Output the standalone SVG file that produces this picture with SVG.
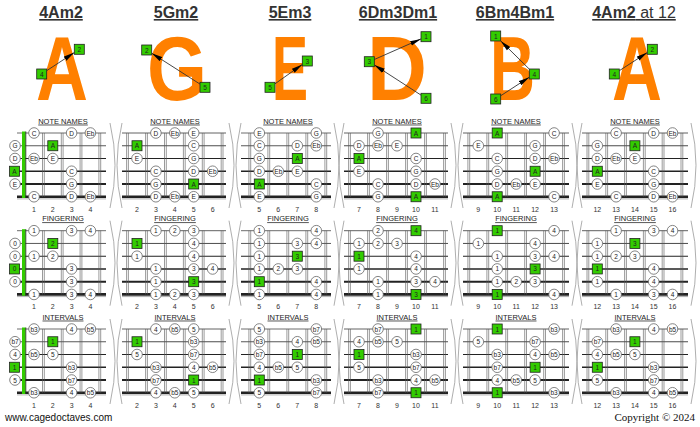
<svg xmlns="http://www.w3.org/2000/svg" width="700" height="427" viewBox="0 0 700 427">
<style>
text{font-family:'Liberation Sans',Arial,Helvetica,sans-serif}
.t text{font-size:6.5px;text-anchor:middle;dominant-baseline:central;fill:#222}
.n{font-size:7px;text-anchor:middle;fill:#333}
.h{font-size:7.5px;text-anchor:middle;text-decoration:underline;fill:#333}
.fr{stroke:#555;stroke-width:0.6;fill:none}
.st path{fill:none;stroke:#222}
.s1{stroke-width:0.7}.s2{stroke-width:0.8}.s3{stroke-width:1.1}.s4{stroke-width:1.5}.s5{stroke-width:2}.s6{stroke-width:2.7}
.wv{fill:none;stroke:#999;stroke-width:0.8}
.c{fill:#fff;stroke:#666;stroke-width:0.8}
.q{fill:#33cc00;stroke:#222;stroke-width:0.8}
.big{font-size:91px;font-weight:bold;fill:#ff8000}
.ttl{font-size:16px;font-weight:bold;text-anchor:middle;text-decoration:underline;fill:#333}
.arr{stroke:#333;stroke-width:0.9;fill:none;marker-end:url(#ah)}
</style>
<defs>
<circle id="o" r="5.3" class="c"/>
<rect id="q" x="-5" y="-5" width="10" height="10" class="q"/>
<marker id="ah" markerUnits="userSpaceOnUse" markerWidth="12" markerHeight="6" refX="11" refY="3" orient="auto"><path d="M0,0.6 L11,3 L0,5.4 Z" fill="#000"/></marker>
<g id="S" class="st">
<path class="s1" d="M0,0H100"/><path class="s2" d="M0,12.75H100"/><path class="s3" d="M0,25.5H100"/><path class="s4" d="M0,38.25H100"/><path class="s5" d="M0,51H100"/><path class="s6" d="M0,63.75H100"/><path d="M0,65.9H100" style="stroke:#999;stroke-width:0.8"/>
</g>
<path id="F" class="fr" d="M-0.9,0V63.75M0.9,0V63.75"/>
<g id="b1">
<use href="#S" transform="translate(17,0) scale(0.89,1)"/>
<rect x="22" y="-1.5" width="3.6" height="66.5" fill="#33cc00"/>
<path d="M25.8,-1.5V65" stroke="#222" stroke-width="0.8"/>
<use href="#F" x="43.4"/><use href="#F" x="62.2"/><use href="#F" x="81"/><use href="#F" x="99.8"/>
<path class="wv" d="M110,-10Q120,32 110,75"/>
</g>
<g id="b2">
<use href="#S" transform="translate(122,0) scale(1.04,1)"/>
<use href="#F" x="127.5"/><use href="#F" x="146.5"/><use href="#F" x="165.4"/><use href="#F" x="184.3"/><use href="#F" x="203.2"/><use href="#F" x="222.1"/>
<path class="wv" d="M122,-10Q112,32 122,75"/>
<path class="wv" d="M229,-10Q239,32 229,75"/>
</g>
<g id="b3">
<use href="#S" transform="translate(241,0) scale(0.9,1)"/>
<use href="#F" x="249.8"/><use href="#F" x="268.8"/><use href="#F" x="287.8"/><use href="#F" x="306.8"/><use href="#F" x="325.8"/>
<path class="wv" d="M241,-10Q231,32 241,75"/>
<path class="wv" d="M334,-10Q344,32 334,75"/>
</g>
<g id="b4">
<use href="#S" transform="translate(344,0) scale(1.04,1)"/>
<use href="#F" x="349.5"/><use href="#F" x="368.5"/><use href="#F" x="387.5"/><use href="#F" x="406.5"/><use href="#F" x="425.5"/><use href="#F" x="444.5"/>
<path class="wv" d="M344,-10Q334,32 344,75"/>
<path class="wv" d="M451,-10Q461,32 451,75"/>
</g>
<g id="b5">
<use href="#S" transform="translate(463,0) scale(1.06,1)"/>
<use href="#F" x="468.8"/><use href="#F" x="487.8"/><use href="#F" x="506.7"/><use href="#F" x="525.6"/><use href="#F" x="544.6"/><use href="#F" x="563.5"/>
<path class="wv" d="M463,-10Q453,32 463,75"/>
<path class="wv" d="M572,-10Q582,32 572,75"/>
</g>
<g id="b6">
<use href="#S" transform="translate(582,0) scale(1.06,1)"/>
<use href="#F" x="587.9"/><use href="#F" x="606.7"/><use href="#F" x="625.5"/><use href="#F" x="644.3"/><use href="#F" x="663.1"/><use href="#F" x="681.9"/>
<path class="wv" d="M582,-10Q572,32 582,75"/>
<path class="wv" d="M691,-10Q701,32 691,75"/>
</g>
<g id="n1" class="n"><text x="34" y="78.5">1</text><text x="52.8" y="78.5">2</text><text x="71.6" y="78.5">3</text><text x="90.4" y="78.5">4</text></g>
<g id="n2" class="n"><text x="137" y="78.5">2</text><text x="155.9" y="78.5">3</text><text x="174.8" y="78.5">4</text><text x="193.7" y="78.5">5</text><text x="212.6" y="78.5">6</text></g>
<g id="n3" class="n"><text x="259.3" y="78.5">5</text><text x="278.3" y="78.5">6</text><text x="297.3" y="78.5">7</text><text x="316.3" y="78.5">8</text></g>
<g id="n4" class="n"><text x="359" y="78.5">7</text><text x="378" y="78.5">8</text><text x="397" y="78.5">9</text><text x="416" y="78.5">10</text><text x="435" y="78.5">11</text></g>
<g id="n5" class="n"><text x="478.3" y="78.5">9</text><text x="497.2" y="78.5">10</text><text x="516.2" y="78.5">11</text><text x="535.1" y="78.5">12</text><text x="554.1" y="78.5">13</text></g>
<g id="n6" class="n"><text x="597.3" y="78.5">12</text><text x="616.1" y="78.5">13</text><text x="634.9" y="78.5">14</text><text x="653.7" y="78.5">15</text><text x="672.5" y="78.5">16</text></g>
</defs>
<rect width="700" height="427" fill="#fff"/>

<!-- header -->
<g id="header">
<text class="ttl" x="61" y="18">4Am2</text>
<text class="ttl" x="176" y="18">5Gm2</text>
<text class="ttl" x="290" y="18">5Em3</text>
<text class="ttl" x="398" y="18">6Dm3Dm1</text>
<text class="ttl" x="515" y="18">6Bm4Bm1</text>
<text class="ttl" x="634" y="18"><tspan>4Am2</tspan><tspan font-weight="normal"> at 12</tspan></text>
<text class="big" x="36" y="100" textLength="52" lengthAdjust="spacingAndGlyphs">A</text>
<text class="big" x="147" y="100" textLength="60" lengthAdjust="spacingAndGlyphs">G</text>
<text class="big" x="272" y="100" textLength="36" lengthAdjust="spacingAndGlyphs">E</text>
<text class="big" x="367" y="100" textLength="60" lengthAdjust="spacingAndGlyphs">D</text>
<text class="big" x="490" y="100" textLength="45" lengthAdjust="spacingAndGlyphs">B</text>
<text class="big" x="612" y="100" textLength="50" lengthAdjust="spacingAndGlyphs">A</text>
</g>
<g id="connectors">
<path class="arr" d="M46.7,70.7L74.3,52.6"/>
<path class="arr" d="M200,84.1L151.7,53.2"/>
<path class="arr" d="M275,83.8L302.3,64.5"/>
<path class="arr" d="M374.3,59.5L421,38.9"/>
<path class="arr" d="M421,95.1L374.3,64.9"/>
<path class="arr" d="M529.3,69.1L500.7,40.9"/>
<path class="arr" d="M500.7,95.75L529.3,77.2"/>
<path class="arr" d="M619.3,70.7L647.3,52.6"/>
</g>
<g id="header-boxes" class="t">
<use href="#q" x="79.3" y="49.3"/><text x="79.3" y="49.3">2</text>
<use href="#q" x="41.7" y="74"/><text x="41.7" y="74">4</text>
<use href="#q" x="146.7" y="50"/><text x="146.7" y="50">2</text>
<use href="#q" x="205" y="87.3"/><text x="205" y="87.3">5</text>
<use href="#q" x="307.3" y="61"/><text x="307.3" y="61">3</text>
<use href="#q" x="270" y="87.3"/><text x="270" y="87.3">5</text>
<use href="#q" x="426" y="36.7"/><text x="426" y="36.7">1</text>
<use href="#q" x="369.3" y="61.7"/><text x="369.3" y="61.7">3</text>
<use href="#q" x="426" y="98.3"/><text x="426" y="98.3">6</text>
<use href="#q" x="495.7" y="36"/><text x="495.7" y="36">1</text>
<use href="#q" x="534.3" y="74"/><text x="534.3" y="74">4</text>
<use href="#q" x="495.7" y="99"/><text x="495.7" y="99">6</text>
<use href="#q" x="652.3" y="49.3"/><text x="652.3" y="49.3">2</text>
<use href="#q" x="614.3" y="74"/><text x="614.3" y="74">4</text>
</g>

<!-- ROW 1: NOTE NAMES -->
<g id="d1-notes" class="t" transform="translate(0,133)">
<use href="#b1"/><use href="#n1"/><text class="h" x="63" y="-9.4" style="font-size:7.5px;dominant-baseline:auto">NOTE NAMES</text>
<use href="#o" x="34" y="0"/><text x="34" y="0">C</text><use href="#o" x="71.6" y="0"/><text x="71.6" y="0">D</text><use href="#o" x="90.4" y="0"/><text x="90.4" y="0">Eb</text>
<use href="#o" x="15" y="12.75"/><text x="15" y="12.75">G</text><use href="#q" x="52.8" y="12.75"/><text x="52.8" y="12.75">A</text>
<use href="#o" x="15" y="25.5"/><text x="15" y="25.5">D</text><use href="#o" x="34" y="25.5"/><text x="34" y="25.5">Eb</text><use href="#o" x="52.8" y="25.5"/><text x="52.8" y="25.5">E</text>
<use href="#q" x="14.5" y="38.25"/><text x="14.5" y="38.25">A</text><use href="#o" x="71.6" y="38.25"/><text x="71.6" y="38.25">C</text>
<use href="#o" x="15" y="51"/><text x="15" y="51">E</text><use href="#o" x="71.6" y="51"/><text x="71.6" y="51">G</text>
<use href="#o" x="34" y="63.75"/><text x="34" y="63.75">C</text><use href="#o" x="71.6" y="63.75"/><text x="71.6" y="63.75">D</text><use href="#o" x="90.4" y="63.75"/><text x="90.4" y="63.75">Eb</text>
</g>
<g id="d2-notes" class="t" transform="translate(0,133)">
<use href="#b2"/><use href="#n2"/><text class="h" x="175" y="-9.4" style="font-size:7.5px;dominant-baseline:auto">NOTE NAMES</text>
<use href="#o" x="155.9" y="0"/><text x="155.9" y="0">D</text><use href="#o" x="174.8" y="0"/><text x="174.8" y="0">Eb</text><use href="#o" x="193.7" y="0"/><text x="193.7" y="0">E</text>
<use href="#q" x="137" y="12.75"/><text x="137" y="12.75">A</text><use href="#o" x="193.7" y="12.75"/><text x="193.7" y="12.75">C</text>
<use href="#o" x="137" y="25.5"/><text x="137" y="25.5">E</text><use href="#o" x="193.7" y="25.5"/><text x="193.7" y="25.5">G</text>
<use href="#o" x="155.9" y="38.25"/><text x="155.9" y="38.25">C</text><use href="#o" x="193.7" y="38.25"/><text x="193.7" y="38.25">D</text><use href="#o" x="212.6" y="38.25"/><text x="212.6" y="38.25">Eb</text>
<use href="#o" x="155.9" y="51"/><text x="155.9" y="51">G</text><use href="#q" x="193.7" y="51"/><text x="193.7" y="51">A</text>
<use href="#o" x="155.9" y="63.75"/><text x="155.9" y="63.75">D</text><use href="#o" x="174.8" y="63.75"/><text x="174.8" y="63.75">Eb</text><use href="#o" x="193.7" y="63.75"/><text x="193.7" y="63.75">E</text>
</g>
<g id="d3-notes" class="t" transform="translate(0,133)">
<use href="#b3"/><use href="#n3"/><text class="h" x="288" y="-9.4" style="font-size:7.5px;dominant-baseline:auto">NOTE NAMES</text>
<use href="#o" x="259.3" y="0"/><text x="259.3" y="0">E</text><use href="#o" x="316.3" y="0"/><text x="316.3" y="0">G</text>
<use href="#o" x="259.3" y="12.75"/><text x="259.3" y="12.75">C</text><use href="#o" x="297.3" y="12.75"/><text x="297.3" y="12.75">D</text><use href="#o" x="316.3" y="12.75"/><text x="316.3" y="12.75">Eb</text>
<use href="#o" x="259.3" y="25.5"/><text x="259.3" y="25.5">G</text><use href="#q" x="297.3" y="25.5"/><text x="297.3" y="25.5">A</text>
<use href="#o" x="259.3" y="38.25"/><text x="259.3" y="38.25">D</text><use href="#o" x="278.3" y="38.25"/><text x="278.3" y="38.25">Eb</text><use href="#o" x="297.3" y="38.25"/><text x="297.3" y="38.25">E</text>
<use href="#q" x="259.3" y="51"/><text x="259.3" y="51">A</text><use href="#o" x="316.3" y="51"/><text x="316.3" y="51">C</text>
<use href="#o" x="259.3" y="63.75"/><text x="259.3" y="63.75">E</text><use href="#o" x="316.3" y="63.75"/><text x="316.3" y="63.75">G</text>
</g>
<g id="d4-notes" class="t" transform="translate(0,133)">
<use href="#b4"/><use href="#n4"/><text class="h" x="397" y="-9.4" style="font-size:7.5px;dominant-baseline:auto">NOTE NAMES</text>
<use href="#o" x="378" y="0"/><text x="378" y="0">G</text><use href="#q" x="416" y="0"/><text x="416" y="0">A</text>
<use href="#o" x="359" y="12.75"/><text x="359" y="12.75">D</text><use href="#o" x="378" y="12.75"/><text x="378" y="12.75">Eb</text><use href="#o" x="397" y="12.75"/><text x="397" y="12.75">E</text>
<use href="#q" x="359" y="25.5"/><text x="359" y="25.5">A</text><use href="#o" x="416" y="25.5"/><text x="416" y="25.5">C</text>
<use href="#o" x="359" y="38.25"/><text x="359" y="38.25">E</text><use href="#o" x="416" y="38.25"/><text x="416" y="38.25">G</text>
<use href="#o" x="378" y="51"/><text x="378" y="51">C</text><use href="#o" x="416" y="51"/><text x="416" y="51">D</text><use href="#o" x="435" y="51"/><text x="435" y="51">Eb</text>
<use href="#o" x="378" y="63.75"/><text x="378" y="63.75">G</text><use href="#q" x="416" y="63.75"/><text x="416" y="63.75">A</text>
</g>
<g id="d5-notes" class="t" transform="translate(0,133)">
<use href="#b5"/><use href="#n5"/><text class="h" x="516" y="-9.4" style="font-size:7.5px;dominant-baseline:auto">NOTE NAMES</text>
<use href="#q" x="497.2" y="0"/><text x="497.2" y="0">A</text><use href="#o" x="554.1" y="0"/><text x="554.1" y="0">C</text>
<use href="#o" x="478.3" y="12.75"/><text x="478.3" y="12.75">E</text><use href="#o" x="535.1" y="12.75"/><text x="535.1" y="12.75">G</text>
<use href="#o" x="497.2" y="25.5"/><text x="497.2" y="25.5">C</text><use href="#o" x="535.1" y="25.5"/><text x="535.1" y="25.5">D</text><use href="#o" x="554.1" y="25.5"/><text x="554.1" y="25.5">Eb</text>
<use href="#o" x="497.2" y="38.25"/><text x="497.2" y="38.25">G</text><use href="#q" x="535.1" y="38.25"/><text x="535.1" y="38.25">A</text>
<use href="#o" x="497.2" y="51"/><text x="497.2" y="51">D</text><use href="#o" x="516.2" y="51"/><text x="516.2" y="51">Eb</text><use href="#o" x="535.1" y="51"/><text x="535.1" y="51">E</text>
<use href="#q" x="497.2" y="63.75"/><text x="497.2" y="63.75">A</text><use href="#o" x="554.1" y="63.75"/><text x="554.1" y="63.75">C</text>
</g>
<g id="d6-notes" class="t" transform="translate(0,133)">
<use href="#b6"/><use href="#n6"/><text class="h" x="635" y="-9.4" style="font-size:7.5px;dominant-baseline:auto">NOTE NAMES</text>
<use href="#o" x="616.1" y="0"/><text x="616.1" y="0">C</text><use href="#o" x="653.7" y="0"/><text x="653.7" y="0">D</text><use href="#o" x="672.5" y="0"/><text x="672.5" y="0">Eb</text>
<use href="#o" x="597.3" y="12.75"/><text x="597.3" y="12.75">G</text><use href="#q" x="634.9" y="12.75"/><text x="634.9" y="12.75">A</text>
<use href="#o" x="597.3" y="25.5"/><text x="597.3" y="25.5">D</text><use href="#o" x="616.1" y="25.5"/><text x="616.1" y="25.5">Eb</text><use href="#o" x="634.9" y="25.5"/><text x="634.9" y="25.5">E</text>
<use href="#q" x="597.3" y="38.25"/><text x="597.3" y="38.25">A</text><use href="#o" x="653.7" y="38.25"/><text x="653.7" y="38.25">C</text>
<use href="#o" x="597.3" y="51"/><text x="597.3" y="51">E</text><use href="#o" x="653.7" y="51"/><text x="653.7" y="51">G</text>
<use href="#o" x="616.1" y="63.75"/><text x="616.1" y="63.75">C</text><use href="#o" x="653.7" y="63.75"/><text x="653.7" y="63.75">D</text><use href="#o" x="672.5" y="63.75"/><text x="672.5" y="63.75">Eb</text>
</g>

<!-- ROW 2: FINGERING -->
<g id="d1-fingering" class="t" transform="translate(0,230.7)">
<use href="#b1"/><use href="#n1"/><text class="h" x="63" y="-9.4" style="font-size:7.5px;dominant-baseline:auto">FINGERING</text>
<use href="#o" x="34" y="0"/><text x="34" y="0">1</text><use href="#o" x="71.6" y="0"/><text x="71.6" y="0">3</text><use href="#o" x="90.4" y="0"/><text x="90.4" y="0">4</text>
<use href="#o" x="15" y="12.75"/><text x="15" y="12.75">0</text><use href="#q" x="52.8" y="12.75"/><text x="52.8" y="12.75">2</text>
<use href="#o" x="15" y="25.5"/><text x="15" y="25.5">0</text><use href="#o" x="34" y="25.5"/><text x="34" y="25.5">1</text><use href="#o" x="52.8" y="25.5"/><text x="52.8" y="25.5">2</text>
<use href="#q" x="14.5" y="38.25"/><text x="14.5" y="38.25">0</text><use href="#o" x="71.6" y="38.25"/><text x="71.6" y="38.25">3</text>
<use href="#o" x="15" y="51"/><text x="15" y="51">0</text><use href="#o" x="71.6" y="51"/><text x="71.6" y="51">3</text>
<use href="#o" x="34" y="63.75"/><text x="34" y="63.75">1</text><use href="#o" x="71.6" y="63.75"/><text x="71.6" y="63.75">3</text><use href="#o" x="90.4" y="63.75"/><text x="90.4" y="63.75">4</text>
</g>
<g id="d2-fingering" class="t" transform="translate(0,230.7)">
<use href="#b2"/><use href="#n2"/><text class="h" x="175" y="-9.4" style="font-size:7.5px;dominant-baseline:auto">FINGERING</text>
<use href="#o" x="155.9" y="0"/><text x="155.9" y="0">1</text><use href="#o" x="174.8" y="0"/><text x="174.8" y="0">2</text><use href="#o" x="193.7" y="0"/><text x="193.7" y="0">3</text>
<use href="#q" x="137" y="12.75"/><text x="137" y="12.75">1</text><use href="#o" x="193.7" y="12.75"/><text x="193.7" y="12.75">4</text>
<use href="#o" x="137" y="25.5"/><text x="137" y="25.5">1</text><use href="#o" x="193.7" y="25.5"/><text x="193.7" y="25.5">4</text>
<use href="#o" x="155.9" y="38.25"/><text x="155.9" y="38.25">1</text><use href="#o" x="193.7" y="38.25"/><text x="193.7" y="38.25">3</text><use href="#o" x="212.6" y="38.25"/><text x="212.6" y="38.25">4</text>
<use href="#o" x="155.9" y="51"/><text x="155.9" y="51">1</text><use href="#q" x="193.7" y="51"/><text x="193.7" y="51">3</text>
<use href="#o" x="155.9" y="63.75"/><text x="155.9" y="63.75">1</text><use href="#o" x="174.8" y="63.75"/><text x="174.8" y="63.75">2</text><use href="#o" x="193.7" y="63.75"/><text x="193.7" y="63.75">3</text>
</g>
<g id="d3-fingering" class="t" transform="translate(0,230.7)">
<use href="#b3"/><use href="#n3"/><text class="h" x="288" y="-9.4" style="font-size:7.5px;dominant-baseline:auto">FINGERING</text>
<use href="#o" x="259.3" y="0"/><text x="259.3" y="0">1</text><use href="#o" x="316.3" y="0"/><text x="316.3" y="0">4</text>
<use href="#o" x="259.3" y="12.75"/><text x="259.3" y="12.75">1</text><use href="#o" x="297.3" y="12.75"/><text x="297.3" y="12.75">3</text><use href="#o" x="316.3" y="12.75"/><text x="316.3" y="12.75">4</text>
<use href="#o" x="259.3" y="25.5"/><text x="259.3" y="25.5">1</text><use href="#q" x="297.3" y="25.5"/><text x="297.3" y="25.5">3</text>
<use href="#o" x="259.3" y="38.25"/><text x="259.3" y="38.25">1</text><use href="#o" x="278.3" y="38.25"/><text x="278.3" y="38.25">2</text><use href="#o" x="297.3" y="38.25"/><text x="297.3" y="38.25">3</text>
<use href="#q" x="259.3" y="51"/><text x="259.3" y="51">1</text><use href="#o" x="316.3" y="51"/><text x="316.3" y="51">4</text>
<use href="#o" x="259.3" y="63.75"/><text x="259.3" y="63.75">1</text><use href="#o" x="316.3" y="63.75"/><text x="316.3" y="63.75">4</text>
</g>
<g id="d4-fingering" class="t" transform="translate(0,230.7)">
<use href="#b4"/><use href="#n4"/><text class="h" x="397" y="-9.4" style="font-size:7.5px;dominant-baseline:auto">FINGERING</text>
<use href="#o" x="378" y="0"/><text x="378" y="0">2</text><use href="#q" x="416" y="0"/><text x="416" y="0">4</text>
<use href="#o" x="359" y="12.75"/><text x="359" y="12.75">1</text><use href="#o" x="378" y="12.75"/><text x="378" y="12.75">2</text><use href="#o" x="397" y="12.75"/><text x="397" y="12.75">3</text>
<use href="#q" x="359" y="25.5"/><text x="359" y="25.5">1</text><use href="#o" x="416" y="25.5"/><text x="416" y="25.5">4</text>
<use href="#o" x="359" y="38.25"/><text x="359" y="38.25">1</text><use href="#o" x="416" y="38.25"/><text x="416" y="38.25">4</text>
<use href="#o" x="378" y="51"/><text x="378" y="51">1</text><use href="#o" x="416" y="51"/><text x="416" y="51">3</text><use href="#o" x="435" y="51"/><text x="435" y="51">4</text>
<use href="#o" x="378" y="63.75"/><text x="378" y="63.75">1</text><use href="#q" x="416" y="63.75"/><text x="416" y="63.75">3</text>
</g>
<g id="d5-fingering" class="t" transform="translate(0,230.7)">
<use href="#b5"/><use href="#n5"/><text class="h" x="516" y="-9.4" style="font-size:7.5px;dominant-baseline:auto">FINGERING</text>
<use href="#q" x="497.2" y="0"/><text x="497.2" y="0">1</text><use href="#o" x="554.1" y="0"/><text x="554.1" y="0">4</text>
<use href="#o" x="478.3" y="12.75"/><text x="478.3" y="12.75">1</text><use href="#o" x="535.1" y="12.75"/><text x="535.1" y="12.75">4</text>
<use href="#o" x="497.2" y="25.5"/><text x="497.2" y="25.5">1</text><use href="#o" x="535.1" y="25.5"/><text x="535.1" y="25.5">3</text><use href="#o" x="554.1" y="25.5"/><text x="554.1" y="25.5">4</text>
<use href="#o" x="497.2" y="38.25"/><text x="497.2" y="38.25">1</text><use href="#q" x="535.1" y="38.25"/><text x="535.1" y="38.25">3</text>
<use href="#o" x="497.2" y="51"/><text x="497.2" y="51">1</text><use href="#o" x="516.2" y="51"/><text x="516.2" y="51">2</text><use href="#o" x="535.1" y="51"/><text x="535.1" y="51">3</text>
<use href="#q" x="497.2" y="63.75"/><text x="497.2" y="63.75">1</text><use href="#o" x="554.1" y="63.75"/><text x="554.1" y="63.75">4</text>
</g>
<g id="d6-fingering" class="t" transform="translate(0,230.7)">
<use href="#b6"/><use href="#n6"/><text class="h" x="635" y="-9.4" style="font-size:7.5px;dominant-baseline:auto">FINGERING</text>
<use href="#o" x="616.1" y="0"/><text x="616.1" y="0">1</text><use href="#o" x="653.7" y="0"/><text x="653.7" y="0">3</text><use href="#o" x="672.5" y="0"/><text x="672.5" y="0">4</text>
<use href="#o" x="597.3" y="12.75"/><text x="597.3" y="12.75">1</text><use href="#q" x="634.9" y="12.75"/><text x="634.9" y="12.75">3</text>
<use href="#o" x="597.3" y="25.5"/><text x="597.3" y="25.5">1</text><use href="#o" x="616.1" y="25.5"/><text x="616.1" y="25.5">2</text><use href="#o" x="634.9" y="25.5"/><text x="634.9" y="25.5">3</text>
<use href="#q" x="597.3" y="38.25"/><text x="597.3" y="38.25">1</text><use href="#o" x="653.7" y="38.25"/><text x="653.7" y="38.25">4</text>
<use href="#o" x="597.3" y="51"/><text x="597.3" y="51">1</text><use href="#o" x="653.7" y="51"/><text x="653.7" y="51">4</text>
<use href="#o" x="616.1" y="63.75"/><text x="616.1" y="63.75">1</text><use href="#o" x="653.7" y="63.75"/><text x="653.7" y="63.75">3</text><use href="#o" x="672.5" y="63.75"/><text x="672.5" y="63.75">4</text>
</g>

<!-- ROW 3: INTERVALS -->
<g id="d1-intervals" class="t" transform="translate(0,329)">
<use href="#b1"/><use href="#n1"/><text class="h" x="63" y="-9.4" style="font-size:7.5px;dominant-baseline:auto">INTERVALS</text>
<use href="#o" x="34" y="0"/><text x="34" y="0">b3</text><use href="#o" x="71.6" y="0"/><text x="71.6" y="0">4</text><use href="#o" x="90.4" y="0"/><text x="90.4" y="0">b5</text>
<use href="#o" x="15" y="12.75"/><text x="15" y="12.75">b7</text><use href="#q" x="52.8" y="12.75"/><text x="52.8" y="12.75">1</text>
<use href="#o" x="15" y="25.5"/><text x="15" y="25.5">4</text><use href="#o" x="34" y="25.5"/><text x="34" y="25.5">b5</text><use href="#o" x="52.8" y="25.5"/><text x="52.8" y="25.5">5</text>
<use href="#q" x="14.5" y="38.25"/><text x="14.5" y="38.25">1</text><use href="#o" x="71.6" y="38.25"/><text x="71.6" y="38.25">b3</text>
<use href="#o" x="15" y="51"/><text x="15" y="51">5</text><use href="#o" x="71.6" y="51"/><text x="71.6" y="51">b7</text>
<use href="#o" x="34" y="63.75"/><text x="34" y="63.75">b3</text><use href="#o" x="71.6" y="63.75"/><text x="71.6" y="63.75">4</text><use href="#o" x="90.4" y="63.75"/><text x="90.4" y="63.75">b5</text>
</g>
<g id="d2-intervals" class="t" transform="translate(0,329)">
<use href="#b2"/><use href="#n2"/><text class="h" x="175" y="-9.4" style="font-size:7.5px;dominant-baseline:auto">INTERVALS</text>
<use href="#o" x="155.9" y="0"/><text x="155.9" y="0">4</text><use href="#o" x="174.8" y="0"/><text x="174.8" y="0">b5</text><use href="#o" x="193.7" y="0"/><text x="193.7" y="0">5</text>
<use href="#q" x="137" y="12.75"/><text x="137" y="12.75">1</text><use href="#o" x="193.7" y="12.75"/><text x="193.7" y="12.75">b3</text>
<use href="#o" x="137" y="25.5"/><text x="137" y="25.5">5</text><use href="#o" x="193.7" y="25.5"/><text x="193.7" y="25.5">b7</text>
<use href="#o" x="155.9" y="38.25"/><text x="155.9" y="38.25">b3</text><use href="#o" x="193.7" y="38.25"/><text x="193.7" y="38.25">4</text><use href="#o" x="212.6" y="38.25"/><text x="212.6" y="38.25">b5</text>
<use href="#o" x="155.9" y="51"/><text x="155.9" y="51">b7</text><use href="#q" x="193.7" y="51"/><text x="193.7" y="51">1</text>
<use href="#o" x="155.9" y="63.75"/><text x="155.9" y="63.75">4</text><use href="#o" x="174.8" y="63.75"/><text x="174.8" y="63.75">b5</text><use href="#o" x="193.7" y="63.75"/><text x="193.7" y="63.75">5</text>
</g>
<g id="d3-intervals" class="t" transform="translate(0,329)">
<use href="#b3"/><use href="#n3"/><text class="h" x="288" y="-9.4" style="font-size:7.5px;dominant-baseline:auto">INTERVALS</text>
<use href="#o" x="259.3" y="0"/><text x="259.3" y="0">5</text><use href="#o" x="316.3" y="0"/><text x="316.3" y="0">b7</text>
<use href="#o" x="259.3" y="12.75"/><text x="259.3" y="12.75">b3</text><use href="#o" x="297.3" y="12.75"/><text x="297.3" y="12.75">4</text><use href="#o" x="316.3" y="12.75"/><text x="316.3" y="12.75">b5</text>
<use href="#o" x="259.3" y="25.5"/><text x="259.3" y="25.5">b7</text><use href="#q" x="297.3" y="25.5"/><text x="297.3" y="25.5">1</text>
<use href="#o" x="259.3" y="38.25"/><text x="259.3" y="38.25">4</text><use href="#o" x="278.3" y="38.25"/><text x="278.3" y="38.25">b5</text><use href="#o" x="297.3" y="38.25"/><text x="297.3" y="38.25">5</text>
<use href="#q" x="259.3" y="51"/><text x="259.3" y="51">1</text><use href="#o" x="316.3" y="51"/><text x="316.3" y="51">b3</text>
<use href="#o" x="259.3" y="63.75"/><text x="259.3" y="63.75">5</text><use href="#o" x="316.3" y="63.75"/><text x="316.3" y="63.75">b7</text>
</g>
<g id="d4-intervals" class="t" transform="translate(0,329)">
<use href="#b4"/><use href="#n4"/><text class="h" x="397" y="-9.4" style="font-size:7.5px;dominant-baseline:auto">INTERVALS</text>
<use href="#o" x="378" y="0"/><text x="378" y="0">b7</text><use href="#q" x="416" y="0"/><text x="416" y="0">1</text>
<use href="#o" x="359" y="12.75"/><text x="359" y="12.75">4</text><use href="#o" x="378" y="12.75"/><text x="378" y="12.75">b5</text><use href="#o" x="397" y="12.75"/><text x="397" y="12.75">5</text>
<use href="#q" x="359" y="25.5"/><text x="359" y="25.5">1</text><use href="#o" x="416" y="25.5"/><text x="416" y="25.5">b3</text>
<use href="#o" x="359" y="38.25"/><text x="359" y="38.25">5</text><use href="#o" x="416" y="38.25"/><text x="416" y="38.25">b7</text>
<use href="#o" x="378" y="51"/><text x="378" y="51">b3</text><use href="#o" x="416" y="51"/><text x="416" y="51">4</text><use href="#o" x="435" y="51"/><text x="435" y="51">b5</text>
<use href="#o" x="378" y="63.75"/><text x="378" y="63.75">b7</text><use href="#q" x="416" y="63.75"/><text x="416" y="63.75">1</text>
</g>
<g id="d5-intervals" class="t" transform="translate(0,329)">
<use href="#b5"/><use href="#n5"/><text class="h" x="516" y="-9.4" style="font-size:7.5px;dominant-baseline:auto">INTERVALS</text>
<use href="#q" x="497.2" y="0"/><text x="497.2" y="0">1</text><use href="#o" x="554.1" y="0"/><text x="554.1" y="0">b3</text>
<use href="#o" x="478.3" y="12.75"/><text x="478.3" y="12.75">5</text><use href="#o" x="535.1" y="12.75"/><text x="535.1" y="12.75">b7</text>
<use href="#o" x="497.2" y="25.5"/><text x="497.2" y="25.5">b3</text><use href="#o" x="535.1" y="25.5"/><text x="535.1" y="25.5">4</text><use href="#o" x="554.1" y="25.5"/><text x="554.1" y="25.5">b5</text>
<use href="#o" x="497.2" y="38.25"/><text x="497.2" y="38.25">b7</text><use href="#q" x="535.1" y="38.25"/><text x="535.1" y="38.25">1</text>
<use href="#o" x="497.2" y="51"/><text x="497.2" y="51">4</text><use href="#o" x="516.2" y="51"/><text x="516.2" y="51">b5</text><use href="#o" x="535.1" y="51"/><text x="535.1" y="51">5</text>
<use href="#q" x="497.2" y="63.75"/><text x="497.2" y="63.75">1</text><use href="#o" x="554.1" y="63.75"/><text x="554.1" y="63.75">b3</text>
</g>
<g id="d6-intervals" class="t" transform="translate(0,329)">
<use href="#b6"/><use href="#n6"/><text class="h" x="635" y="-9.4" style="font-size:7.5px;dominant-baseline:auto">INTERVALS</text>
<use href="#o" x="616.1" y="0"/><text x="616.1" y="0">b3</text><use href="#o" x="653.7" y="0"/><text x="653.7" y="0">4</text><use href="#o" x="672.5" y="0"/><text x="672.5" y="0">b5</text>
<use href="#o" x="597.3" y="12.75"/><text x="597.3" y="12.75">b7</text><use href="#q" x="634.9" y="12.75"/><text x="634.9" y="12.75">1</text>
<use href="#o" x="597.3" y="25.5"/><text x="597.3" y="25.5">4</text><use href="#o" x="616.1" y="25.5"/><text x="616.1" y="25.5">b5</text><use href="#o" x="634.9" y="25.5"/><text x="634.9" y="25.5">5</text>
<use href="#q" x="597.3" y="38.25"/><text x="597.3" y="38.25">1</text><use href="#o" x="653.7" y="38.25"/><text x="653.7" y="38.25">b3</text>
<use href="#o" x="597.3" y="51"/><text x="597.3" y="51">5</text><use href="#o" x="653.7" y="51"/><text x="653.7" y="51">b7</text>
<use href="#o" x="616.1" y="63.75"/><text x="616.1" y="63.75">b3</text><use href="#o" x="653.7" y="63.75"/><text x="653.7" y="63.75">4</text><use href="#o" x="672.5" y="63.75"/><text x="672.5" y="63.75">b5</text>
</g>

<text x="5" y="421" style="font-size:10px;fill:#111">www.cagedoctaves.com</text>
<text x="695" y="421" style="font-family:'Liberation Serif','Times New Roman',serif;font-size:11px;text-anchor:end;fill:#111">Copyright © 2024</text>
</svg>
